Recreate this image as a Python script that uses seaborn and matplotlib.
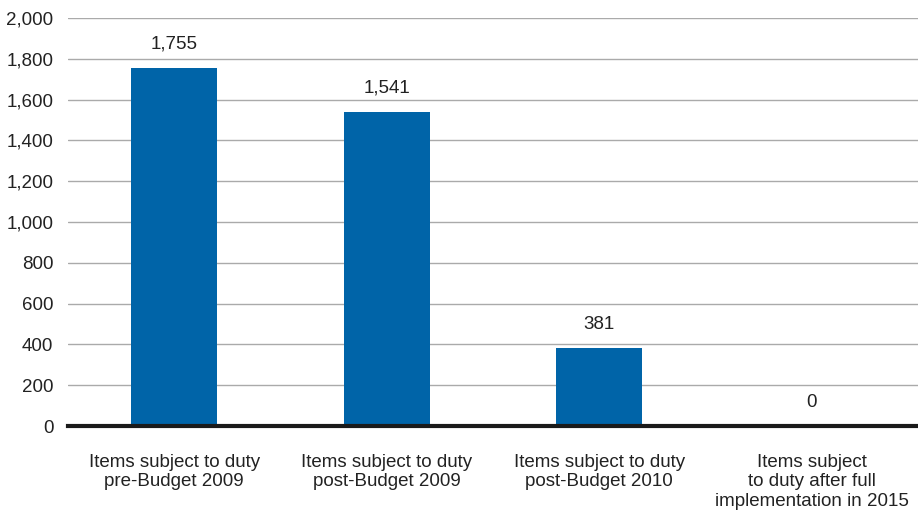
import matplotlib
matplotlib.use("Agg")
import matplotlib.pyplot as plt
import seaborn as sns
import pandas as pd

categories = ["Items subject to duty\npre-Budget 2009",
              "Items subject to duty\npost-Budget 2009",
              "Items subject to duty\npost-Budget 2010",
              "Items subject\nto duty after full\nimplementation in 2015"]
values = [1755, 1541, 381, 0]
yticks = [0, 200, 400, 600, 800, 1000, 1200, 1400, 1600, 1800, 2000]

sns.set_theme(style="white")
plt.rcParams['font.family'] = ['Liberation Sans', 'DejaVu Sans']

df = pd.DataFrame({"cat": categories, "val": values})
fig = plt.figure(figsize=(9.18, 5.14), dpi=100)
ax = fig.add_axes([0.074, 0.171, 0.926, 0.794])
sns.barplot(data=df, x="cat", y="val", color="#0064A8", width=0.404, saturation=1,
            linewidth=0, ax=ax, zorder=3)
ax.set_ylim(0, 2000)
ax.set_xlim(-0.5, 3.5)
ax.set_yticks(yticks)
ax.set_yticklabels([f"{v:,}" for v in yticks])
ax.yaxis.grid(True, color="#AAAAAA", linewidth=1, zorder=0)
ax.set_axisbelow(True)
for s in ["top", "right", "left"]:
    ax.spines[s].set_visible(False)
ax.spines["bottom"].set_color("#1a1a1a")
ax.spines["bottom"].set_linewidth(3)
ax.spines["bottom"].set_zorder(5)
ax.tick_params(axis="both", length=0, labelsize=13.5, colors="#222222")
ax.tick_params(axis="y", pad=10.5)
ax.tick_params(axis="x", pad=20)
for lab in ax.get_xticklabels():
    lab.set_linespacing(1.2)
ax.set_xlabel("")
ax.set_ylabel("")
for i, v in enumerate(values):
    ax.annotate(f"{v:,}", (i, v), xytext=(0, 11), textcoords="offset points",
                ha="center", va="bottom", fontsize=13.5, color="#222222")
fig.savefig("out.png", dpi=100)
